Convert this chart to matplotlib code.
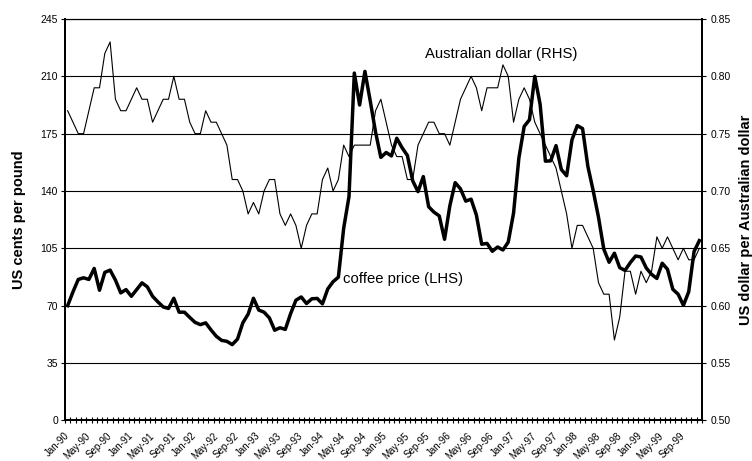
import matplotlib.pyplot as plt
import numpy as np

plt.rcParams['font.family'] = ['Liberation Sans', 'DejaVu Sans']

# x tick labels, one every 4 months (Jan-90 .. Sep-99)
tick_labels = ['Jan-90', 'May-90', 'Sep-90', 'Jan-91', 'May-91', 'Sep-91',
               'Jan-92', 'May-92', 'Sep-92', 'Jan-93', 'May-93', 'Sep-93',
               'Jan-94', 'May-94', 'Sep-94', 'Jan-95', 'May-95', 'Sep-95',
               'Jan-96', 'May-96', 'Sep-96', 'Jan-97', 'May-97', 'Sep-97',
               'Jan-98', 'May-98', 'Sep-98', 'Jan-99', 'May-99', 'Sep-99']

# coffee price, US cents per pound (LHS), monthly Jan-90 .. Dec-99
coffee = [70.0, 78.4, 86.0, 87.0, 86.0, 92.7, 79.4, 90.3, 91.7, 85.6,
          77.8, 79.8, 75.7, 79.8, 83.9, 81.5, 75.7, 72.3, 69.2, 68.3,
          74.5, 66.0, 66.0, 62.8, 59.8, 58.4, 59.5, 55.2, 51.3, 48.8,
          48.2, 46.2, 49.6, 59.5, 64.8, 74.5, 67.3, 66.0, 62.5, 55.0,
          56.5, 55.5, 65.1, 73.3, 75.3, 71.3, 74.2, 74.4, 71.1, 80.2,
          84.6, 87.4, 117.3, 136.6, 212.0, 192.5, 213.0, 195.0, 176.0, 160.5,
          163.5, 161.4, 172.2, 166.4, 161.7, 146.2, 139.6, 148.8, 130.4, 127.1,
          124.8, 110.5, 131.0, 145.1, 141.3, 133.8, 135.0, 125.3, 107.5, 108.0,
          103.2, 105.8, 104.0, 108.8, 126.5, 160.1, 179.4, 183.5, 210.0, 193.0,
          158.2, 158.4, 167.7, 153.1, 149.3, 171.2, 179.9, 178.1, 155.0, 140.2,
          124.0, 104.5, 96.5, 102.0, 93.2, 91.5, 96.3, 100.3, 99.7, 93.0,
          89.1, 86.6, 95.9, 92.2, 80.0, 77.0, 70.2, 78.5, 103.0, 109.7]

# Australian dollar, US dollar per AUD (RHS)
aud = [0.77, 0.76, 0.75, 0.75, 0.77, 0.79, 0.79, 0.82, 0.83, 0.78,
       0.77, 0.77, 0.78, 0.79, 0.78, 0.78, 0.76, 0.77, 0.78, 0.78,
       0.80, 0.78, 0.78, 0.76, 0.75, 0.75, 0.77, 0.76, 0.76, 0.75,
       0.74, 0.71, 0.71, 0.70, 0.68, 0.69, 0.68, 0.70, 0.71, 0.71,
       0.68, 0.67, 0.68, 0.67, 0.65, 0.67, 0.68, 0.68, 0.71, 0.72,
       0.70, 0.71, 0.74, 0.73, 0.74, 0.74, 0.74, 0.74, 0.77, 0.78,
       0.76, 0.74, 0.73, 0.73, 0.71, 0.71, 0.74, 0.75, 0.76, 0.76,
       0.75, 0.75, 0.74, 0.76, 0.78, 0.79, 0.80, 0.79, 0.77, 0.79,
       0.79, 0.79, 0.81, 0.80, 0.76, 0.78, 0.79, 0.78, 0.76, 0.75,
       0.74, 0.73, 0.72, 0.70, 0.68, 0.65, 0.67, 0.67, 0.66, 0.65,
       0.62, 0.61, 0.61, 0.57, 0.59, 0.63, 0.63, 0.61, 0.63, 0.62,
       0.63, 0.66, 0.65, 0.66, 0.65, 0.64, 0.65, 0.64, 0.64, 0.65]

months = np.arange(len(coffee))

fig = plt.figure(figsize=(7.52, 4.61), dpi=100)
ax = fig.add_axes([65 / 752, 1 - 420.3 / 461, 637 / 752, 401.3 / 461])
ax2 = ax.twinx()

ax.plot(months, coffee, color='black', lw=2.5, zorder=3)
ax2.plot(months, aud, color='black', lw=0.8)

ax.set_xlim(-0.5, len(coffee) - 0.5)
ax.set_ylim(0, 245)
ax.set_yticks(np.arange(0, 246, 35))
ax2.set_ylim(0.50, 0.85)
ax2.set_yticks(np.arange(0.50, 0.851, 0.05))
ax2.set_yticklabels(['%.2f' % v for v in np.arange(0.50, 0.851, 0.05)])

ax.grid(axis='y', color='black', lw=0.8)
ax.set_axisbelow(True)

ax.set_xticks(months[::4])
ax.set_xticklabels(tick_labels, rotation=45, ha='right', va='center',
                   rotation_mode='anchor', fontsize=7)
ax.set_xticks(np.arange(-0.5, len(coffee), 1), minor=True)
ax.tick_params(axis='x', which='major', length=0, pad=10)
ax.tick_params(axis='x', which='minor', direction='inout', length=4, width=0.8)
ax.tick_params(axis='y', labelsize=7.5, length=3, width=0.8, pad=2)
ax2.tick_params(axis='y', labelsize=7.5, length=3, width=0.8, pad=3)

for a in (ax, ax2):
    for side in ('left', 'right', 'bottom'):
        a.spines[side].set_linewidth(1.4)
    a.spines['top'].set_linewidth(0.8)

ax.set_ylabel('US cents per pound', fontsize=10.5, fontweight='bold')
ax.yaxis.set_label_coords(-0.062, 0.5)
ax2.set_ylabel('US dollar per Australian dollar', fontsize=10.5, fontweight='bold')
ax2.yaxis.set_label_coords(1.058, 0.5)

ax.text(67.3, 223.6, 'Australian dollar (RHS)', va='center', fontsize=10.7)
ax.text(51.8, 86.4, 'coffee price (LHS)', va='center', fontsize=10.7)

fig.savefig('out.png', dpi=100)
